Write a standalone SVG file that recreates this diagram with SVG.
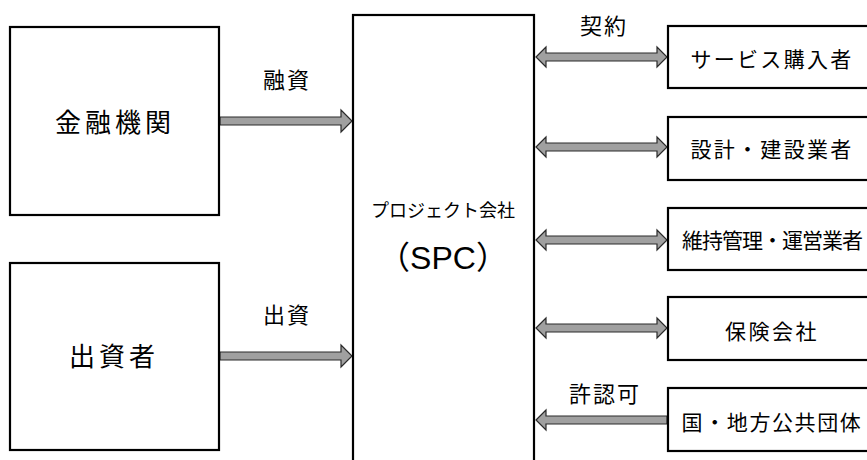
<svg xmlns="http://www.w3.org/2000/svg" width="867" height="460" viewBox="0 0 867 460">
<style>
.box{fill:#fff;stroke:#000;stroke-width:2.2}
.arr{fill:#a0a0a0;stroke:#2a2a2a;stroke-width:1.2;stroke-linejoin:miter}
text{font-family:"Noto Sans CJK JP","Liberation Sans",sans-serif;fill:#000;text-anchor:middle}
.big{font-size:26px;letter-spacing:4px}
.lbl{font-size:22px;letter-spacing:2px}
.rt{font-size:21px}
</style>
<rect width="867" height="460" fill="#fff"/>
<g id="connectors">
<polygon class="arr" points="220,117 341,117 341,110 352,121 341,132 341,125 220,125"/>
<polygon class="arr" points="220,352 341,352 341,345 352,356 341,367 341,360 220,360"/>
<polygon class="arr" points="536,57 546,47 546,53 657,53 657,47 667,57 657,67 657,61 546,61 546,67"/>
<polygon class="arr" points="536,147 546,137 546,143 657,143 657,137 667,147 657,157 657,151 546,151 546,157"/>
<polygon class="arr" points="536,240 546,230 546,236 657,236 657,230 667,240 657,250 657,244 546,244 546,250"/>
<polygon class="arr" points="536,328 546,318 546,324 657,324 657,318 667,328 657,338 657,332 546,332 546,338"/>
<polygon class="arr" points="536,420 546,410 546,416 667,416 667,424 546,424 546,430"/>
<text class="lbl" x="287" y="88">融資</text>
<text class="lbl" x="287" y="323">出資</text>
<text class="lbl" x="604" y="34">契約</text>
<text class="lbl" x="605" y="402">許認可</text>
</g>
<g id="kinyu">
<rect class="box" x="10" y="27" width="209" height="188"/>
<text class="big" x="115" y="132">金融機関</text>
</g>
<g id="shussisha">
<rect class="box" x="10" y="263" width="209" height="187"/>
<text class="big" x="114" y="366">出資者</text>
</g>
<g id="spc">
<rect class="box" x="353" y="15" width="181" height="470"/>
<text x="443" y="217" style="font-size:18px">プロジェクト会社</text>
<text x="443" y="269" style="font-size:32px">（<tspan font-family="Liberation Sans">SPC</tspan>）</text>
</g>
<g id="service">
<rect class="box" x="668" y="26" width="230" height="62"/>
<text class="rt" x="772" y="67" letter-spacing="2.3">サービス購入者</text>
</g>
<g id="sekkei">
<rect class="box" x="668" y="117" width="230" height="63"/>
<text class="rt" x="772" y="157" letter-spacing="2.3">設計・建設業者</text>
</g>
<g id="iji">
<rect class="box" x="668" y="208" width="230" height="62"/>
<text class="rt" x="772" y="248" letter-spacing="-1">維持管理・運営業者</text>
</g>
<g id="hoken">
<rect class="box" x="668" y="297" width="230" height="63"/>
<text class="rt" x="772" y="339" letter-spacing="2.5">保険会社</text>
</g>
<g id="kuni">
<rect class="box" x="668" y="388" width="230" height="63"/>
<text class="rt" x="772" y="430" letter-spacing="1.6">国・地方公共団体</text>
</g>
</svg>
